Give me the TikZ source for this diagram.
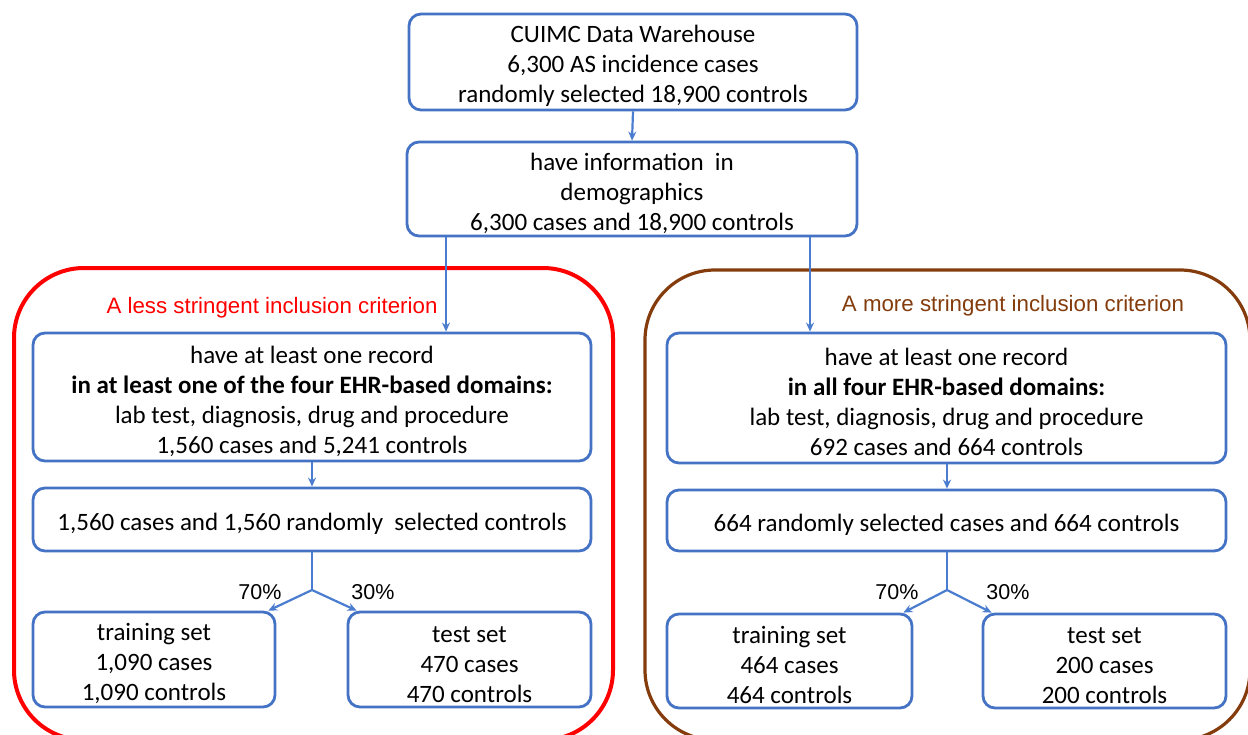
\documentclass[tikz,border=0pt]{standalone}
\usepackage{fontspec}
\setmainfont{Carlito}
\newfontfamily\arialf{Liberation Sans}
\usetikzlibrary{arrows.meta}
\definecolor{boxblue}{HTML}{4472C4}
\definecolor{arrblue}{HTML}{4A7CD0}
\definecolor{critred}{HTML}{FF0000}
\definecolor{critbrown}{HTML}{843C0C}
\newcommand{\firstline}{\rule{0pt}{26pt}}
\begin{document}
\begin{tikzpicture}[x=1pt,y=-1pt,
  box/.style={draw=boxblue, line width=2.8pt, rounded corners=12pt, align=center, inner sep=0pt,
    font=\fontsize{25}{30}\selectfont},
  arr/.style={draw=arrblue, line width=2.2pt, -{Stealth[length=9pt,width=8pt]}},
  plainline/.style={draw=arrblue, line width=2.2pt},
  crit/.style={font=\arialf\fontsize{22.3}{24}\selectfont, inner sep=0pt},
  pct/.style={font=\arialf\fontsize{21.5}{24}\selectfont, inner sep=0pt}]
\useasboundingbox (0,0) rectangle (1248,734);
\begin{scope}
\clip (0,0) rectangle (1248,734);
\draw[critred, line width=4pt, rounded corners=70pt] (14,268) rectangle (613,740);
\draw[critbrown, line width=3.2pt, rounded corners=70pt] (645,270) rectangle (1250,740);
\end{scope}
\node[crit, text=critred] (lhead) at (272,308) {A less stringent inclusion criterion};
\node[crit, text=critbrown] (rhead) at (1013,306) {A more stringent inclusion criterion};

\node[box, minimum width=448pt, minimum height=96pt] (top) at (633,62)
  {\firstline CUIMC Data Warehouse\\6,300 AS incidence cases\\randomly selected 18,900 controls};
\node[box, minimum width=450pt, minimum height=94pt] (demo) at (632,189)
  {\firstline have information\ \ in\\demographics\\6,300 cases and 18,900 controls};

\node[box, minimum width=558pt, minimum height=128pt] (L1) at (312,397)
  {\firstline have at least one record\\\textbf{in at least one of the four EHR-based domains:}\\lab test, diagnosis, drug and procedure\\1,560 cases and 5,241 controls};
\node[box, minimum width=558pt, minimum height=63pt] (L2) at (312,519.5)
  {\firstline 1,560 cases and 1,560 randomly\ \ selected controls};
\node[box, minimum width=242pt, minimum height=95pt] (Ltr) at (154,659.5)
  {\firstline training set\\1,090 cases\\1,090 controls};
\node[box, minimum width=243pt, minimum height=95pt] (Lte) at (469.5,659.5)
  {\firstline test set\\470 cases\\470 controls};

\node[box, minimum width=559pt, minimum height=130pt] (R1) at (946.5,398)
  {\firstline have at least one record\\\textbf{in all four EHR-based domains:}\\lab test, diagnosis, drug and procedure\\692 cases and 664 controls};
\node[box, minimum width=559pt, minimum height=61pt] (R2) at (946.5,520.5)
  {\firstline 664 randomly selected cases and 664 controls};
\node[box, minimum width=245pt, minimum height=94pt] (Rtr) at (789.5,661)
  {\firstline training set\\464 cases\\464 controls};
\node[box, minimum width=243pt, minimum height=94pt] (Rte) at (1104.5,661)
  {\firstline test set\\200 cases\\200 controls};

\coordinate (la) at (446,0);
\coordinate (ra) at (810,0);
\coordinate (Lj) at (312,590);
\coordinate (Rj) at (947,590);

\draw[arr] (top.south) -- (demo.north);
\draw[arr] (demo.south -| la) -- (L1.north -| la);
\draw[arr] (demo.south -| ra) -- (R1.north -| ra);
\draw[arr] (L1.south -| Lj) -- (L2.north -| Lj);
\draw[arr] (R1.south -| Rj) -- (R2.north -| Rj);

\draw[plainline] (L2.south -| Lj) -- (Lj);
\draw[arr] (Lj) -- ([xshift=-8pt]Ltr.north east);
\draw[arr] (Lj) -- ([xshift=10pt]Lte.north west);
\draw[plainline] (R2.south -| Rj) -- (Rj);
\draw[arr] (Rj) -- ([xshift=-10pt]Rtr.north east);
\draw[arr] (Rj) -- ([xshift=10pt]Rte.north west);

\node[pct] (l70) at (260,592) {70\%};
\node[pct] (l30) at (373,592) {30\%};
\node[pct] (r70) at (897,592) {70\%};
\node[pct] (r30) at (1008,592) {30\%};
\end{tikzpicture}
\end{document}
